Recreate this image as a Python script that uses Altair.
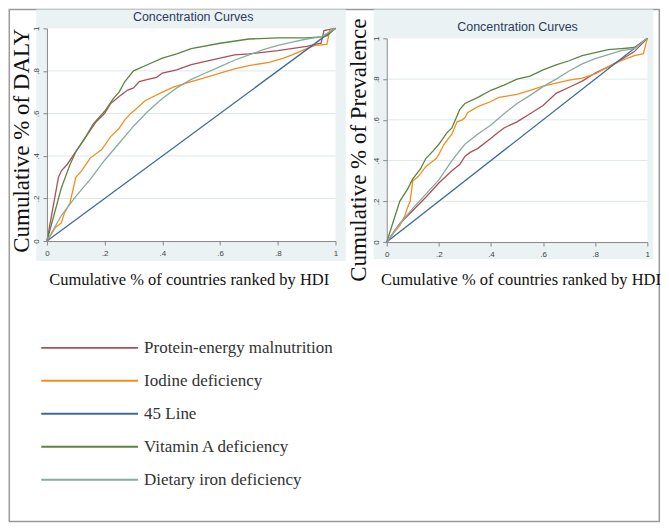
import altair as alt
import pandas as pd

# ---------------- data ----------------
legend_names = ["Protein-energy malnutrition", "Iodine deficiency", "45 Line",
                "Vitamin A deficiency", "Dietary iron deficiency"]
line_colors = ["#ad4f5a", "#f28f1e", "#3c6a9c", "#5b8540", "#8aaaa2"]
tick_vals = [0, 0.2, 0.4, 0.6, 0.8, 1]
grid_vals = [0.2, 0.4, 0.6, 0.8]

# DALY panel
pem_daly_x = [0, .02, .04, .05, .07, .10, .12, .15, .17, .20, .22, .25, .28, .30, .32, .35, .38, .40, .45, .50, .55, .60, .65, .70, .80, .90, .95, .96, .98, 1]
pem_daly_y = [0, .15, .30, .33, .36, .42, .46, .52, .56, .60, .645, .68, .71, .72, .75, .76, .77, .79, .805, .83, .845, .86, .875, .88, .895, .915, .93, .99, .995, 1]
iod_daly_x = [0, .03, .05, .06, .08, .10, .12, .15, .19, .22, .25, .27, .29, .30, .34, .40, .44, .50, .54, .60, .65, .70, .77, .82, .85, .90, .93, .97, .98, 1]
iod_daly_y = [0, .065, .085, .13, .18, .30, .33, .39, .43, .49, .53, .57, .60, .61, .66, .70, .725, .75, .765, .79, .81, .825, .84, .86, .875, .905, .92, .925, .99, 1]
deg_x = [0, 1]
deg_y = [0, 1]
vita_daly_x = [0, .02, .05, .08, .10, .13, .16, .20, .23, .25, .27, .30, .35, .40, .45, .50, .60, .70, .80, .90, .95, .97, 1]
vita_daly_y = [0, .10, .25, .36, .42, .48, .55, .61, .67, .70, .75, .80, .83, .86, .88, .905, .93, .95, .955, .955, .96, .965, 1]
iron_daly_x = [0, .05, .10, .15, .20, .25, .30, .35, .40, .45, .50, .55, .60, .65, .70, .75, .80, .85, .90, .95, 1]
iron_daly_y = [0, .12, .21, .29, .38, .46, .54, .61, .67, .72, .76, .79, .82, .85, .875, .90, .92, .935, .95, .96, 1]

# Prevalence panel
pem_prev_x = [0, .05, .10, .15, .20, .25, .28, .30, .32, .35, .40, .42, .45, .50, .55, .60, .65, .70, .75, .80, .85, .90, .95, 1]
pem_prev_y = [0, .09, .155, .22, .29, .35, .38, .42, .44, .46, .51, .53, .56, .59, .63, .67, .73, .76, .79, .83, .86, .895, .935, 1]
iod_prev_x = [0, .03, .05, .07, .08, .09, .10, .12, .15, .17, .19, .20, .22, .25, .26, .27, .29, .30, .31, .35, .40, .43, .50, .55, .60, .65, .70, .75, .80, .85, .90, .95, .985, 1]
iod_prev_y = [0, .05, .08, .13, .17, .20, .30, .32, .37, .39, .41, .43, .48, .53, .56, .59, .60, .61, .635, .665, .69, .71, .725, .745, .765, .78, .795, .805, .825, .86, .89, .915, .925, 1]
vita_prev_x = [0, .02, .05, .08, .10, .13, .15, .18, .20, .23, .25, .27, .28, .30, .35, .40, .45, .50, .55, .60, .65, .70, .75, .80, .85, .90, .95, 1]
vita_prev_y = [0, .08, .20, .26, .31, .36, .41, .45, .48, .535, .56, .62, .65, .68, .71, .745, .77, .80, .815, .845, .87, .89, .915, .93, .945, .95, .955, 1]
iron_prev_x = [0, .05, .10, .15, .20, .25, .30, .35, .40, .45, .50, .55, .60, .65, .70, .75, .80, .85, .90, .95, 1]
iron_prev_y = [0, .09, .165, .235, .305, .40, .48, .53, .575, .63, .68, .72, .763, .80, .84, .875, .90, .92, .94, .95, 1]

daly_series = [(pem_daly_x, pem_daly_y), (iod_daly_x, iod_daly_y), (deg_x, deg_y),
               (vita_daly_x, vita_daly_y), (iron_daly_x, iron_daly_y)]
prev_series = [(pem_prev_x, pem_prev_y), (iod_prev_x, iod_prev_y), (deg_x, deg_y),
               (vita_prev_x, vita_prev_y), (iron_prev_x, iron_prev_y)]

# ---------------- styling ----------------
BG = "#eaf2f3"
GRID = "#dde8eb"
SERIF = "Liberation Serif"
SANS = "Liberation Sans"
one = pd.DataFrame({"k": [0]})

label_expr = ("datum.value == 0 ? '0' : datum.value == 1 ? '1' : "
              "replace(format(datum.value, '.1f'), '0.', '.')")


def panel(series, W, H, top, ytitle, ytitle_x, ytitle_y, xtitle_x, xtitle_y,
          bg, title_xy, frame=None):
    yscale = alt.Scale(domain=[0, 1], range=[H, top], nice=False, zero=False)
    xscale = alt.Scale(domain=[0, 1], nice=False, zero=False)
    xaxis = alt.Axis(values=tick_vals, labelExpr=label_expr, grid=False, zindex=1,
                     title="Cumulative % of countries ranked by HDI",
                     titleFont=SERIF, titleFontSize=16.5, titleFontWeight="normal",
                     titleColor="#111", titleX=xtitle_x, titleY=xtitle_y,
                     titleAlign="center", titleBaseline="alphabetic",
                     labelFont=SANS, labelFontSize=8, labelColor="#444",
                     labelPadding=4, tickSize=4, tickColor="#888",
                     domainColor="#888", labelFlush=False)
    yaxis = alt.Axis(values=tick_vals, labelExpr=label_expr, grid=False, zindex=1,
                     title=ytitle, titleFont=SERIF, titleFontSize=23,
                     titleFontWeight="normal", titleColor="#111",
                     titleX=ytitle_x, titleY=ytitle_y, titleAngle=270,
                     titleAlign="center", titleBaseline="middle",
                     labelFont=SANS, labelFontSize=8, labelColor="#444",
                     labelAngle=-90, labelAlign="center", labelBaseline="bottom",
                     labelPadding=2, tickSize=4, tickColor="#888",
                     domainColor="#888", labelFlush=False)

    layers = []
    if frame is not None:
        layers.append(alt.Chart(one).mark_rect(fill=None, stroke="#9a9a9a",
                                               strokeWidth=1.5).encode(
            x=alt.value(frame[0]), x2=alt.value(frame[1]),
            y=alt.value(frame[2]), y2=alt.value(frame[3])))
    layers.append(alt.Chart(one).mark_rect(fill=BG).encode(
        x=alt.value(bg[0]), x2=alt.value(bg[1]), y=alt.value(bg[2]), y2=alt.value(bg[3])))
    layers.append(alt.Chart(one).mark_rect(fill="white").encode(
        x=alt.value(0), x2=alt.value(W), y=alt.value(top), y2=alt.value(H)))
    layers.append(alt.Chart(pd.DataFrame({"g": grid_vals})).mark_rule(
        color=GRID, strokeWidth=1).encode(
        y=alt.Y("g:Q", scale=yscale, axis=yaxis),
        x=alt.value(0), x2=alt.value(W)))
    for (xs, ys), col in zip(series, line_colors):
        df = pd.DataFrame({"x": xs, "y": ys})
        layers.append(alt.Chart(df).mark_line(color=col, strokeWidth=1.3).encode(
            x=alt.X("x:Q", scale=xscale, axis=xaxis),
            y=alt.Y("y:Q", scale=yscale, axis=yaxis),
            order="x:Q"))
    layers.append(alt.Chart(one).mark_text(
        text="Concentration Curves", font=SANS, fontSize=12.5, color="#2b3a5c",
        align="center", baseline="middle").encode(
        x=alt.value(title_xy[0]), y=alt.value(title_xy[1])))
    return alt.layer(*layers).properties(width=W, height=H)


# left panel: origin page (45.7, 27)
left = panel(daly_series, 289, 213, 0, "Cumulative % of DALY",
             -25, 112, 142, 43.5,
             bg=(-10.7, 299.3, -19, 233), title_xy=(146.5, -11),
             frame=(-37.7, 613.3, -19, 494))
# right panel: group origin page (386, 27), plot from y=10
right = panel(prev_series, 261, 214, 10, "Cumulative % of Prevalence",
              -28, 121.5, 134, 42.5,
              bg=(-13, 267, -19, 231), title_xy=(131, -1))

legend_df = pd.DataFrame({"name": legend_names})
ly = alt.Y("name:N", sort=legend_names,
           scale=alt.Scale(type="point", padding=0, domain=legend_names), axis=None)
lc = alt.Color("name:N", scale=alt.Scale(domain=legend_names, range=line_colors), legend=None)
legend_rules = alt.Chart(legend_df).mark_rule(strokeWidth=2).encode(
    y=ly, color=lc, x=alt.value(-5.7), x2=alt.value(91.3))
legend_text = alt.Chart(legend_df).mark_text(
    align="left", baseline="middle", font=SERIF, fontSize=17, color="#333").encode(
    y=ly, text="name:N", x=alt.value(97.3))
legend = alt.layer(legend_rules, legend_text).properties(width=280, height=132)

chart = alt.concat(left, right, legend, columns=2, bounds="flush",
                   spacing=alt.RowColnumber(row=106, column=51.3)).properties(
    padding=0
).configure_view(strokeWidth=0)

chart.save("out.html", embed_options={"renderer": "svg", "actions": False})
